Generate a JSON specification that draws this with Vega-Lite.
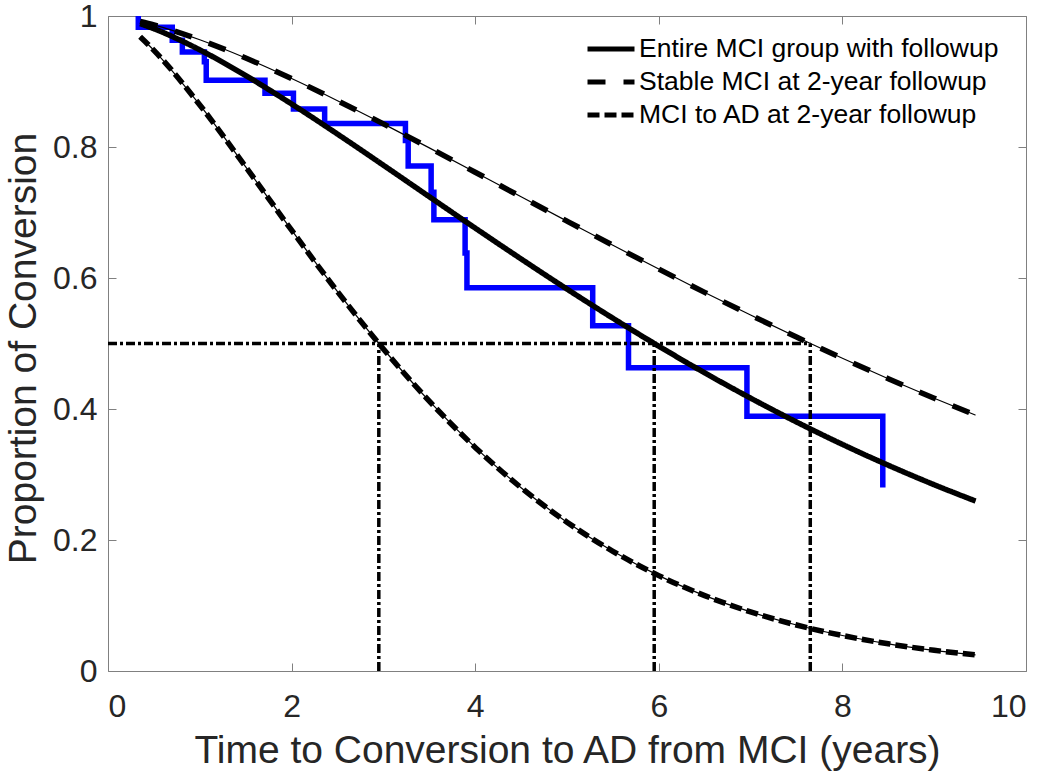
{
  "$schema": "https://vega.github.io/schema/vega-lite/v6.json",
  "width": 918,
  "height": 655,
  "autosize": {"type": "none"},
  "padding": {"left": 108, "top": 16, "right": 24, "bottom": 104},
  "background": "white",
  "config": {
    "font": "Liberation Sans",
    "view": {"stroke": "#808080", "strokeWidth": 1},
    "axis": {
      "grid": false,
      "domain": false,
      "tickColor": "#808080",
      "tickWidth": 1,
      "tickSize": -8,
      "labelColor": "#262626",
      "titleColor": "#262626",
      "labelFont": "Liberation Sans",
      "titleFont": "Liberation Sans",
      "labelFontSize": 32,
      "titleFontSize": 39,
      "titleFontWeight": "normal"
    }
  },
  "datasets": {
    "km": [
      {"t": 0.32, "s": 1.0},
      {"t": 0.33, "s": 0.983},
      {"t": 0.70, "s": 0.963},
      {"t": 0.81, "s": 0.945},
      {"t": 1.05, "s": 0.93},
      {"t": 1.07, "s": 0.902},
      {"t": 1.71, "s": 0.882},
      {"t": 2.02, "s": 0.858},
      {"t": 2.36, "s": 0.836},
      {"t": 3.24, "s": 0.81},
      {"t": 3.27, "s": 0.771},
      {"t": 3.52, "s": 0.731},
      {"t": 3.55, "s": 0.689},
      {"t": 3.89, "s": 0.638},
      {"t": 3.91, "s": 0.585},
      {"t": 5.28, "s": 0.527},
      {"t": 5.67, "s": 0.463},
      {"t": 6.96, "s": 0.389},
      {"t": 8.44, "s": 0.28}
    ],
    "refs": [
      {"x1": 0, "x2": 7.65, "y1": 0.5, "y2": 0.5},
      {"x1": 2.95, "x2": 2.95, "y1": 0, "y2": 0.5},
      {"x1": 5.95, "x2": 5.95, "y1": 0, "y2": 0.5},
      {"x1": 7.65, "x2": 7.65, "y1": 0, "y2": 0.5}
    ],
    "curves": [
      {"series": "Entire MCI group with followup", "t": 0.35, "s": 0.9883},
      {"series": "Entire MCI group with followup", "t": 0.5, "s": 0.9806},
      {"series": "Entire MCI group with followup", "t": 1.0, "s": 0.9483},
      {"series": "Entire MCI group with followup", "t": 1.5, "s": 0.9091},
      {"series": "Entire MCI group with followup", "t": 2.0, "s": 0.8657},
      {"series": "Entire MCI group with followup", "t": 2.5, "s": 0.8197},
      {"series": "Entire MCI group with followup", "t": 3.0, "s": 0.7722},
      {"series": "Entire MCI group with followup", "t": 3.5, "s": 0.7241},
      {"series": "Entire MCI group with followup", "t": 4.0, "s": 0.6762},
      {"series": "Entire MCI group with followup", "t": 4.5, "s": 0.6291},
      {"series": "Entire MCI group with followup", "t": 5.0, "s": 0.5831},
      {"series": "Entire MCI group with followup", "t": 5.5, "s": 0.5386},
      {"series": "Entire MCI group with followup", "t": 6.0, "s": 0.4959},
      {"series": "Entire MCI group with followup", "t": 6.5, "s": 0.4552},
      {"series": "Entire MCI group with followup", "t": 7.0, "s": 0.4166},
      {"series": "Entire MCI group with followup", "t": 7.5, "s": 0.3802},
      {"series": "Entire MCI group with followup", "t": 8.0, "s": 0.346},
      {"series": "Entire MCI group with followup", "t": 8.5, "s": 0.3141},
      {"series": "Entire MCI group with followup", "t": 9.0, "s": 0.2844},
      {"series": "Entire MCI group with followup", "t": 9.45, "s": 0.2595},
      {"series": "Stable MCI at 2-year followup", "t": 0.35, "s": 0.9919},
      {"series": "Stable MCI at 2-year followup", "t": 0.5, "s": 0.9865},
      {"series": "Stable MCI at 2-year followup", "t": 1.0, "s": 0.9637},
      {"series": "Stable MCI at 2-year followup", "t": 1.5, "s": 0.9358},
      {"series": "Stable MCI at 2-year followup", "t": 2.0, "s": 0.9045},
      {"series": "Stable MCI at 2-year followup", "t": 2.5, "s": 0.8707},
      {"series": "Stable MCI at 2-year followup", "t": 3.0, "s": 0.8353},
      {"series": "Stable MCI at 2-year followup", "t": 3.5, "s": 0.7987},
      {"series": "Stable MCI at 2-year followup", "t": 4.0, "s": 0.7615},
      {"series": "Stable MCI at 2-year followup", "t": 4.5, "s": 0.724},
      {"series": "Stable MCI at 2-year followup", "t": 5.0, "s": 0.6868},
      {"series": "Stable MCI at 2-year followup", "t": 5.5, "s": 0.6499},
      {"series": "Stable MCI at 2-year followup", "t": 6.0, "s": 0.6136},
      {"series": "Stable MCI at 2-year followup", "t": 6.5, "s": 0.578},
      {"series": "Stable MCI at 2-year followup", "t": 7.0, "s": 0.5434},
      {"series": "Stable MCI at 2-year followup", "t": 7.5, "s": 0.5098},
      {"series": "Stable MCI at 2-year followup", "t": 8.0, "s": 0.4774},
      {"series": "Stable MCI at 2-year followup", "t": 8.5, "s": 0.4463},
      {"series": "Stable MCI at 2-year followup", "t": 9.0, "s": 0.4165},
      {"series": "Stable MCI at 2-year followup", "t": 9.45, "s": 0.3907},
      {"series": "MCI to AD at 2-year followup", "t": 0.35, "s": 0.9683},
      {"series": "MCI to AD at 2-year followup", "t": 0.5, "s": 0.9476},
      {"series": "MCI to AD at 2-year followup", "t": 1.0, "s": 0.8642},
      {"series": "MCI to AD at 2-year followup", "t": 1.5, "s": 0.7697},
      {"series": "MCI to AD at 2-year followup", "t": 2.0, "s": 0.673},
      {"series": "MCI to AD at 2-year followup", "t": 2.5, "s": 0.5792},
      {"series": "MCI to AD at 2-year followup", "t": 3.0, "s": 0.4916},
      {"series": "MCI to AD at 2-year followup", "t": 3.5, "s": 0.412},
      {"series": "MCI to AD at 2-year followup", "t": 4.0, "s": 0.3414},
      {"series": "MCI to AD at 2-year followup", "t": 4.5, "s": 0.2799},
      {"series": "MCI to AD at 2-year followup", "t": 5.0, "s": 0.2272},
      {"series": "MCI to AD at 2-year followup", "t": 5.5, "s": 0.1827},
      {"series": "MCI to AD at 2-year followup", "t": 6.0, "s": 0.1456},
      {"series": "MCI to AD at 2-year followup", "t": 6.5, "s": 0.1151},
      {"series": "MCI to AD at 2-year followup", "t": 7.0, "s": 0.0902},
      {"series": "MCI to AD at 2-year followup", "t": 7.5, "s": 0.0702},
      {"series": "MCI to AD at 2-year followup", "t": 8.0, "s": 0.0542},
      {"series": "MCI to AD at 2-year followup", "t": 8.5, "s": 0.0415},
      {"series": "MCI to AD at 2-year followup", "t": 9.0, "s": 0.0316},
      {"series": "MCI to AD at 2-year followup", "t": 9.45, "s": 0.0246}
    ]
  },
  "layer": [
    {
      "data": {"name": "km"},
      "mark": {"type": "line", "interpolate": "step-after", "color": "#0000ff", "strokeWidth": 5.5, "clip": true},
      "encoding": {
        "x": {
          "field": "t", "type": "quantitative",
          "scale": {"domain": [0, 10], "nice": false},
          "axis": {
            "orient": "bottom",
            "values": [0, 2, 4, 6, 8, 10],
            "labelPadding": 28,
            "title": "Time to Conversion to AD from MCI (years)",
            "titleY": 91,
            "titleBaseline": "alphabetic"
          }
        },
        "y": {
          "field": "s", "type": "quantitative",
          "scale": {"domain": [0, 1], "nice": false},
          "axis": {
            "orient": "left",
            "values": [0, 0.2, 0.4, 0.6, 0.8, 1],
            "format": "~g",
            "labelPadding": 19,
            "title": "Proportion of Conversion",
            "titleX": -73,
            "titleY": 332,
            "titleBaseline": "alphabetic"
          }
        }
      }
    },
    {
      "data": {"name": "refs"},
      "mark": {"type": "rule", "color": "#000000", "strokeWidth": 3.5, "strokeDash": [9, 3, 3, 3]},
      "encoding": {
        "x": {
          "field": "x1", "type": "quantitative",
          "axis": {"orient": "top", "values": [0, 2, 4, 6, 8, 10], "labels": false, "title": null}
        },
        "x2": {"field": "x2"},
        "y": {
          "field": "y1", "type": "quantitative",
          "axis": {"orient": "right", "values": [0, 0.2, 0.4, 0.6, 0.8, 1], "labels": false, "title": null}
        },
        "y2": {"field": "y2"}
      }
    },
    {
      "data": {"name": "curves"},
      "mark": {"type": "line", "interpolate": "monotone", "color": "#000000", "strokeWidth": 1.2},
      "encoding": {
        "x": {"field": "t", "type": "quantitative", "axis": null},
        "y": {"field": "s", "type": "quantitative", "axis": null},
        "detail": {"field": "series"}
      }
    },
    {
      "data": {"name": "curves"},
      "mark": {"type": "line", "interpolate": "monotone", "color": "#000000", "strokeWidth": 5.5},
      "encoding": {
        "x": {"field": "t", "type": "quantitative", "axis": null},
        "y": {"field": "s", "type": "quantitative", "axis": null},
        "strokeDash": {
          "field": "series", "type": "nominal",
          "scale": {
            "domain": ["Entire MCI group with followup", "Stable MCI at 2-year followup", "MCI to AD at 2-year followup"],
            "range": [[1, 0], [18, 18], [12, 5]]
          },
          "legend": {
            "orient": "none",
            "legendX": 477,
            "legendY": 16.5,
            "title": null,
            "padding": 0,
            "symbolType": "stroke",
            "symbolSize": 2209,
            "symbolStrokeWidth": 5,
            "symbolStrokeColor": "#000000",
            "labelOffset": 2,
            "labelFontSize": 26.5,
            "labelFont": "Liberation Sans",
            "labelColor": "#000000",
            "labelLimit": 0,
            "clipHeight": 33,
            "rowPadding": 0
          }
        }
      }
    }
  ],
  "resolve": {"axis": {"x": "independent", "y": "independent"}}
}
